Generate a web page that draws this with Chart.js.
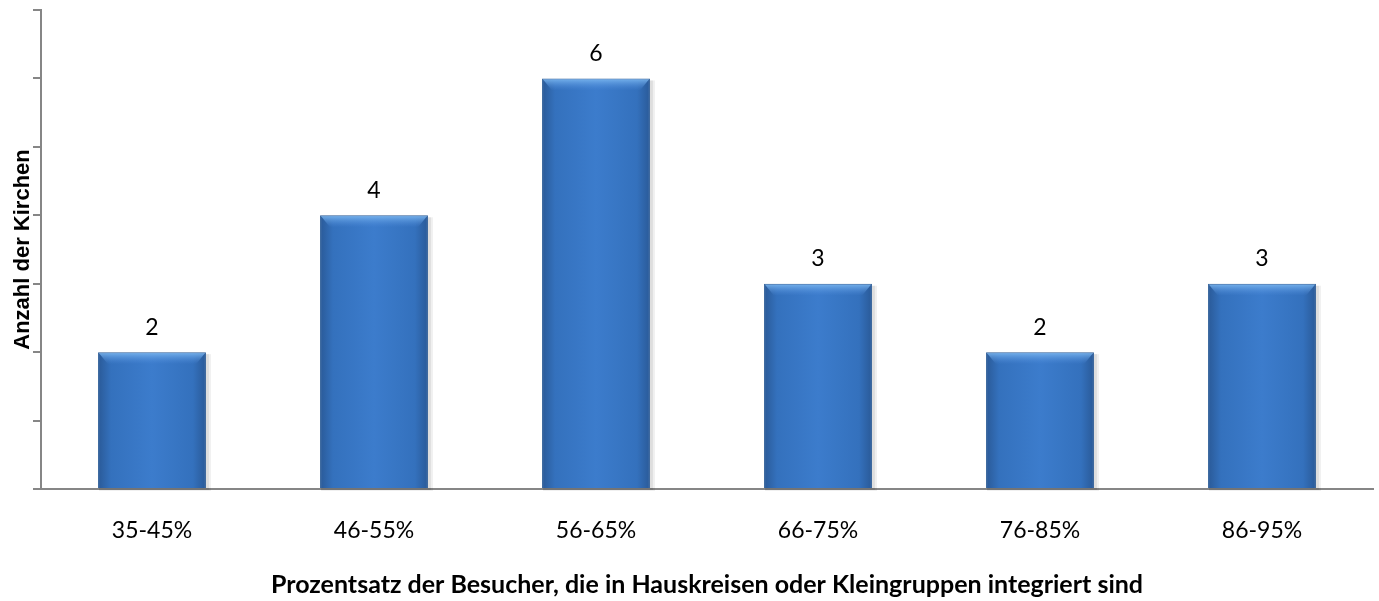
<!DOCTYPE html>
<html>
<head>
<meta charset="utf-8">
<script src="https://cdn.jsdelivr.net/npm/chart.js@4"></script>
<style>
  html, body { margin: 0; padding: 0; background: #fff; }
  #wrap { width: 1379px; height: 601px; }
</style>
</head>
<body>
<div id="wrap"><canvas id="myChart"></canvas></div>
<script>
const categories = ['35-45%', '46-55%', '56-65%', '66-75%', '76-85%', '86-95%'];
const churchCounts = [2, 4, 6, 3, 2, 3];
const xTitle = 'Prozentsatz der Besucher, die in Hauskreisen oder Kleingruppen integriert sind';
const yTitle = 'Anzahl der Kirchen';

const axisGray = '#868686';
const barWidthPct = 0.486;
const labelFont = 'Lato, "Open Sans", sans-serif';

// glossy blue like the office chart: dark edges, lighter middle
function barFill(ctx) {
    const chart = ctx.chart;
    const area = chart.chartArea;
    if (!area || ctx.dataIndex === undefined) return '#3a75c4';
    const xs = chart.scales.x;
    const cx = xs.getPixelForValue(ctx.dataIndex);
    const half = (area.right - area.left) / categories.length * barWidthPct / 2;
    const g = chart.ctx.createLinearGradient(cx - half, 0, cx + half, 0);
    g.addColorStop(0, '#2a5a98');
    g.addColorStop(0.12, '#3471bd');
    g.addColorStop(0.5, '#3c7ccc');
    g.addColorStop(0.88, '#3471bd');
    g.addColorStop(1, '#2a5a98');
    return g;
}

// value labels above the bars
const valueLabels = {
    id: 'valueLabels',
    afterDatasetsDraw(chart) {
        const c = chart.ctx;
        const meta = chart.getDatasetMeta(0);
        c.save();
        c.font = '23px ' + labelFont;
        c.fillStyle = '#000';
        c.textAlign = 'center';
        c.textBaseline = 'middle';
        meta.data.forEach((bar, i) => {
            c.fillText(String(churchCounts[i]), bar.x, bar.y - 25);
        });
        c.restore();
    }
};

// light top bevel + soft shadow
const bevel = {
    id: 'bevel',
    beforeDatasetsDraw(chart) {
        const c = chart.ctx;
        const meta = chart.getDatasetMeta(0);
        c.save();
        meta.data.forEach(bar => {
            const w = bar.width;
            c.fillStyle = 'rgba(0,0,0,0.06)';
            c.fillRect(bar.x - w / 2 + 1, bar.y + 2, w + 4, bar.base - bar.y + 1);
            c.fillStyle = 'rgba(0,0,0,0.08)';
            c.fillRect(bar.x - w / 2 + 1, bar.y + 2, w + 2, bar.base - bar.y);
        });
        c.restore();
    },
    afterDatasetsDraw(chart) {
        const c = chart.ctx;
        const meta = chart.getDatasetMeta(0);
        c.save();
        meta.data.forEach(bar => {
            const w = bar.width, l = bar.x - w / 2;
            const g = c.createLinearGradient(0, bar.y, 0, bar.y + 12);
            g.addColorStop(0, 'rgba(125,185,240,0.95)');
            g.addColorStop(1, 'rgba(80,140,220,0)');
            c.fillStyle = g;
            c.beginPath();
            c.moveTo(l + 1, bar.y + 1);
            c.lineTo(l + w - 1, bar.y + 1);
            c.lineTo(l + w - 10, bar.y + 12);
            c.lineTo(l + 10, bar.y + 12);
            c.closePath();
            c.fill();
        });
        c.restore();
    }
};

window.addEventListener('DOMContentLoaded', function() {
    const ctx = document.getElementById('myChart').getContext('2d');
    new Chart(ctx, {
        type: 'bar',
        data: {
            labels: categories,
            datasets: [{
                data: churchCounts,
                backgroundColor: barFill,
                borderColor: '#2b5b96',
                borderWidth: 1,
                categoryPercentage: 1,
                barPercentage: barWidthPct
            }]
        },
        options: {
            responsive: true,
            maintainAspectRatio: false,
            animation: false,
            layout: { padding: { top: 10, right: 6, left: 0, bottom: 0 } },
            plugins: {
                legend: { display: false },
                tooltip: { enabled: false }
            },
            scales: {
                x: {
                    grid: { display: false, drawTicks: false },
                    border: { color: axisGray, width: 2 },
                    ticks: {
                        color: '#000',
                        padding: 28,
                        font: { family: labelFont, size: 23 }
                    },
                    title: {
                        display: true,
                        text: xTitle,
                        color: '#000',
                        padding: { top: 0, bottom: 1 },
                        font: { family: labelFont, size: 25, weight: 'bold' }
                    },
                    afterFit(scale) { scale.height = 112; }
                },
                y: {
                    min: 0,
                    max: 7,
                    grid: {
                        drawOnChartArea: false,
                        drawTicks: true,
                        tickLength: 8,
                        color: axisGray,
                        lineWidth: 2
                    },
                    border: { color: axisGray, width: 2 },
                    ticks: { display: false, stepSize: 1 },
                    title: {
                        display: true,
                        text: yTitle,
                        color: '#000',
                        padding: { top: 10, bottom: 0 },
                        font: { family: '"Liberation Sans", Arial, sans-serif', size: 22, weight: 'bold' }
                    },
                    afterFit(scale) { scale.width = 41; }
                }
            }
        },
        plugins: [bevel, valueLabels]
    });
});
</script>
</body>
</html>
